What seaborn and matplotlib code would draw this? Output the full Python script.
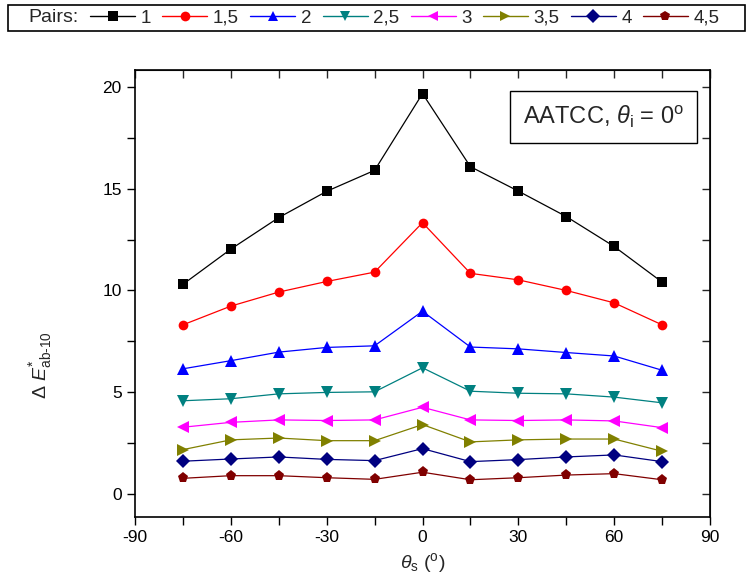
import matplotlib
matplotlib.use("Agg")
import matplotlib.pyplot as plt
from matplotlib.lines import Line2D
from matplotlib.patches import Rectangle
import seaborn as sns
import pandas as pd

angles = [-75, -60, -45, -30, -15, 0, 15, 30, 45, 60, 75]
pairs = ["1", "1,5", "2", "2,5", "3", "3,5", "4", "4,5"]
v_1 = [10.3, 12.03, 13.58, 14.87, 15.9, 19.67, 16.08, 14.88, 13.63, 12.16, 10.41]
v_1_5 = [8.31, 9.23, 9.92, 10.44, 10.9, 13.33, 10.84, 10.52, 10.0, 9.39, 8.31]
v_2 = [6.15, 6.55, 6.97, 7.2, 7.28, 8.98, 7.22, 7.13, 6.95, 6.78, 6.08]
v_2_5 = [4.58, 4.68, 4.92, 4.99, 5.02, 6.2, 5.05, 4.95, 4.92, 4.76, 4.48]
v_3 = [3.28, 3.52, 3.64, 3.61, 3.64, 4.26, 3.64, 3.61, 3.64, 3.59, 3.26]
v_3_5 = [2.18, 2.66, 2.75, 2.62, 2.62, 3.41, 2.56, 2.66, 2.7, 2.7, 2.1]
v_4 = [1.61, 1.72, 1.82, 1.7, 1.64, 2.23, 1.59, 1.69, 1.82, 1.92, 1.59]
v_4_5 = [0.77, 0.9, 0.9, 0.8, 0.72, 1.07, 0.7, 0.8, 0.93, 1.0, 0.7]
series = [v_1, v_1_5, v_2, v_2_5, v_3, v_3_5, v_4, v_4_5]

colors = ["#000000", "#ff0000", "#0000ff", "#008080", "#ff00ff", "#808000", "#000080", "#800000"]
markers = ["s", "o", "^", "v", "<", ">", "D", "p"]
msizes = [6.5, 7, 8.5, 8.5, 8.5, 8.5, 7, 8]

rows = []
for p, vals in zip(pairs, series):
    for a, v in zip(angles, vals):
        rows.append({"angle": a, "value": v, "pair": p})
df = pd.DataFrame(rows)

sns.set_style("white")
plt.rcParams["font.family"] = ["Liberation Sans", "DejaVu Sans"]
plt.rcParams["mathtext.fontset"] = "custom"
plt.rcParams["mathtext.rm"] = "Liberation Sans"
plt.rcParams["mathtext.it"] = "Liberation Sans:italic"
plt.rcParams["mathtext.bf"] = "Liberation Sans:bold"
plt.rcParams["axes.unicode_minus"] = False

fig = plt.figure(figsize=(7.54, 5.87), dpi=100)
ax = fig.add_axes([135/754, 1-517/587, 575/754, 447/587])

sns.lineplot(data=df, x="angle", y="value", hue="pair", style="pair",
             palette=dict(zip(pairs, colors)), markers=dict(zip(pairs, markers)),
             dashes=False, legend=False, ax=ax, linewidth=0.9,
             markeredgewidth=0, markersize=7)
for ln, ms in zip(ax.lines, msizes):
    ln.set_markersize(ms)

ax.set_xlim(-90, 90)
ax.set_ylim(-1.13, 20.83)
ax.set_xticks([-90, -60, -30, 0, 30, 60, 90])
ax.set_xticks(range(-75, 90, 30), minor=True)
ax.set_yticks([0, 5, 10, 15, 20])
ax.set_yticks([2.5, 7.5, 12.5, 17.5], minor=True)
ax.tick_params(axis="both", which="both", direction="out", length=6, width=1,
               labelsize=12.5, color="black", labelcolor="black")
ax.tick_params(axis="x", which="both", bottom=True)
ax.tick_params(axis="y", which="both", left=True)
for s in ax.spines.values():
    s.set_color("black")
    s.set_linewidth(1.2)

secx = ax.secondary_xaxis("top")
secx.set_xticks([-90, -60, -30, 0, 30, 60, 90])
secx.set_xticks(range(-75, 90, 30), minor=True)
secx.tick_params(which="both", direction="in", length=6, width=1, labeltop=False)
secy = ax.secondary_yaxis("right")
secy.set_yticks([0, 5, 10, 15, 20])
secy.set_yticks([2.5, 7.5, 12.5, 17.5], minor=True)
secy.tick_params(which="both", direction="in", length=6, width=1, labelright=False)

ax.set_xlabel(r"$\theta_{\mathrm{s}}$ ($^{\mathrm{o}}$)", fontsize=14)
ax.set_ylabel(r"$\Delta\ E^{*}_{\mathrm{ab}\text{-}\mathrm{10}}$", fontsize=14)
ax.yaxis.set_label_coords(-0.14, 0.34)

ax.text(0.955, 0.925, r"AATCC, $\theta_{\mathrm{i}}$ = 0$^{\mathrm{o}}$", transform=ax.transAxes,
        ha="right", va="top", fontsize=17,
        bbox=dict(boxstyle="square,pad=0.55", facecolor="white", edgecolor="black", linewidth=1))

# Top legend box
fig.patches.append(Rectangle((8/754, 1-31/587), 737/754, 26/587, transform=fig.transFigure,
                             facecolor="white", edgecolor="black", linewidth=1.2))
fig.text(28/754, 1-18/587, "Pairs:", ha="left", va="center", fontsize=14)
handles = [Line2D([0], [0], color=c, marker=m, markersize=7, markeredgewidth=0, linewidth=1)
           for c, m in zip(colors, markers)]
fig.legend(handles, pairs, loc="center left", bbox_to_anchor=(90/754, 1-18/587), ncol=8,
           frameon=False, handlelength=2.4, handletextpad=0.3, columnspacing=0.6,
           fontsize=13.5, borderpad=0, borderaxespad=0)

fig.savefig("out.png", dpi=100)
